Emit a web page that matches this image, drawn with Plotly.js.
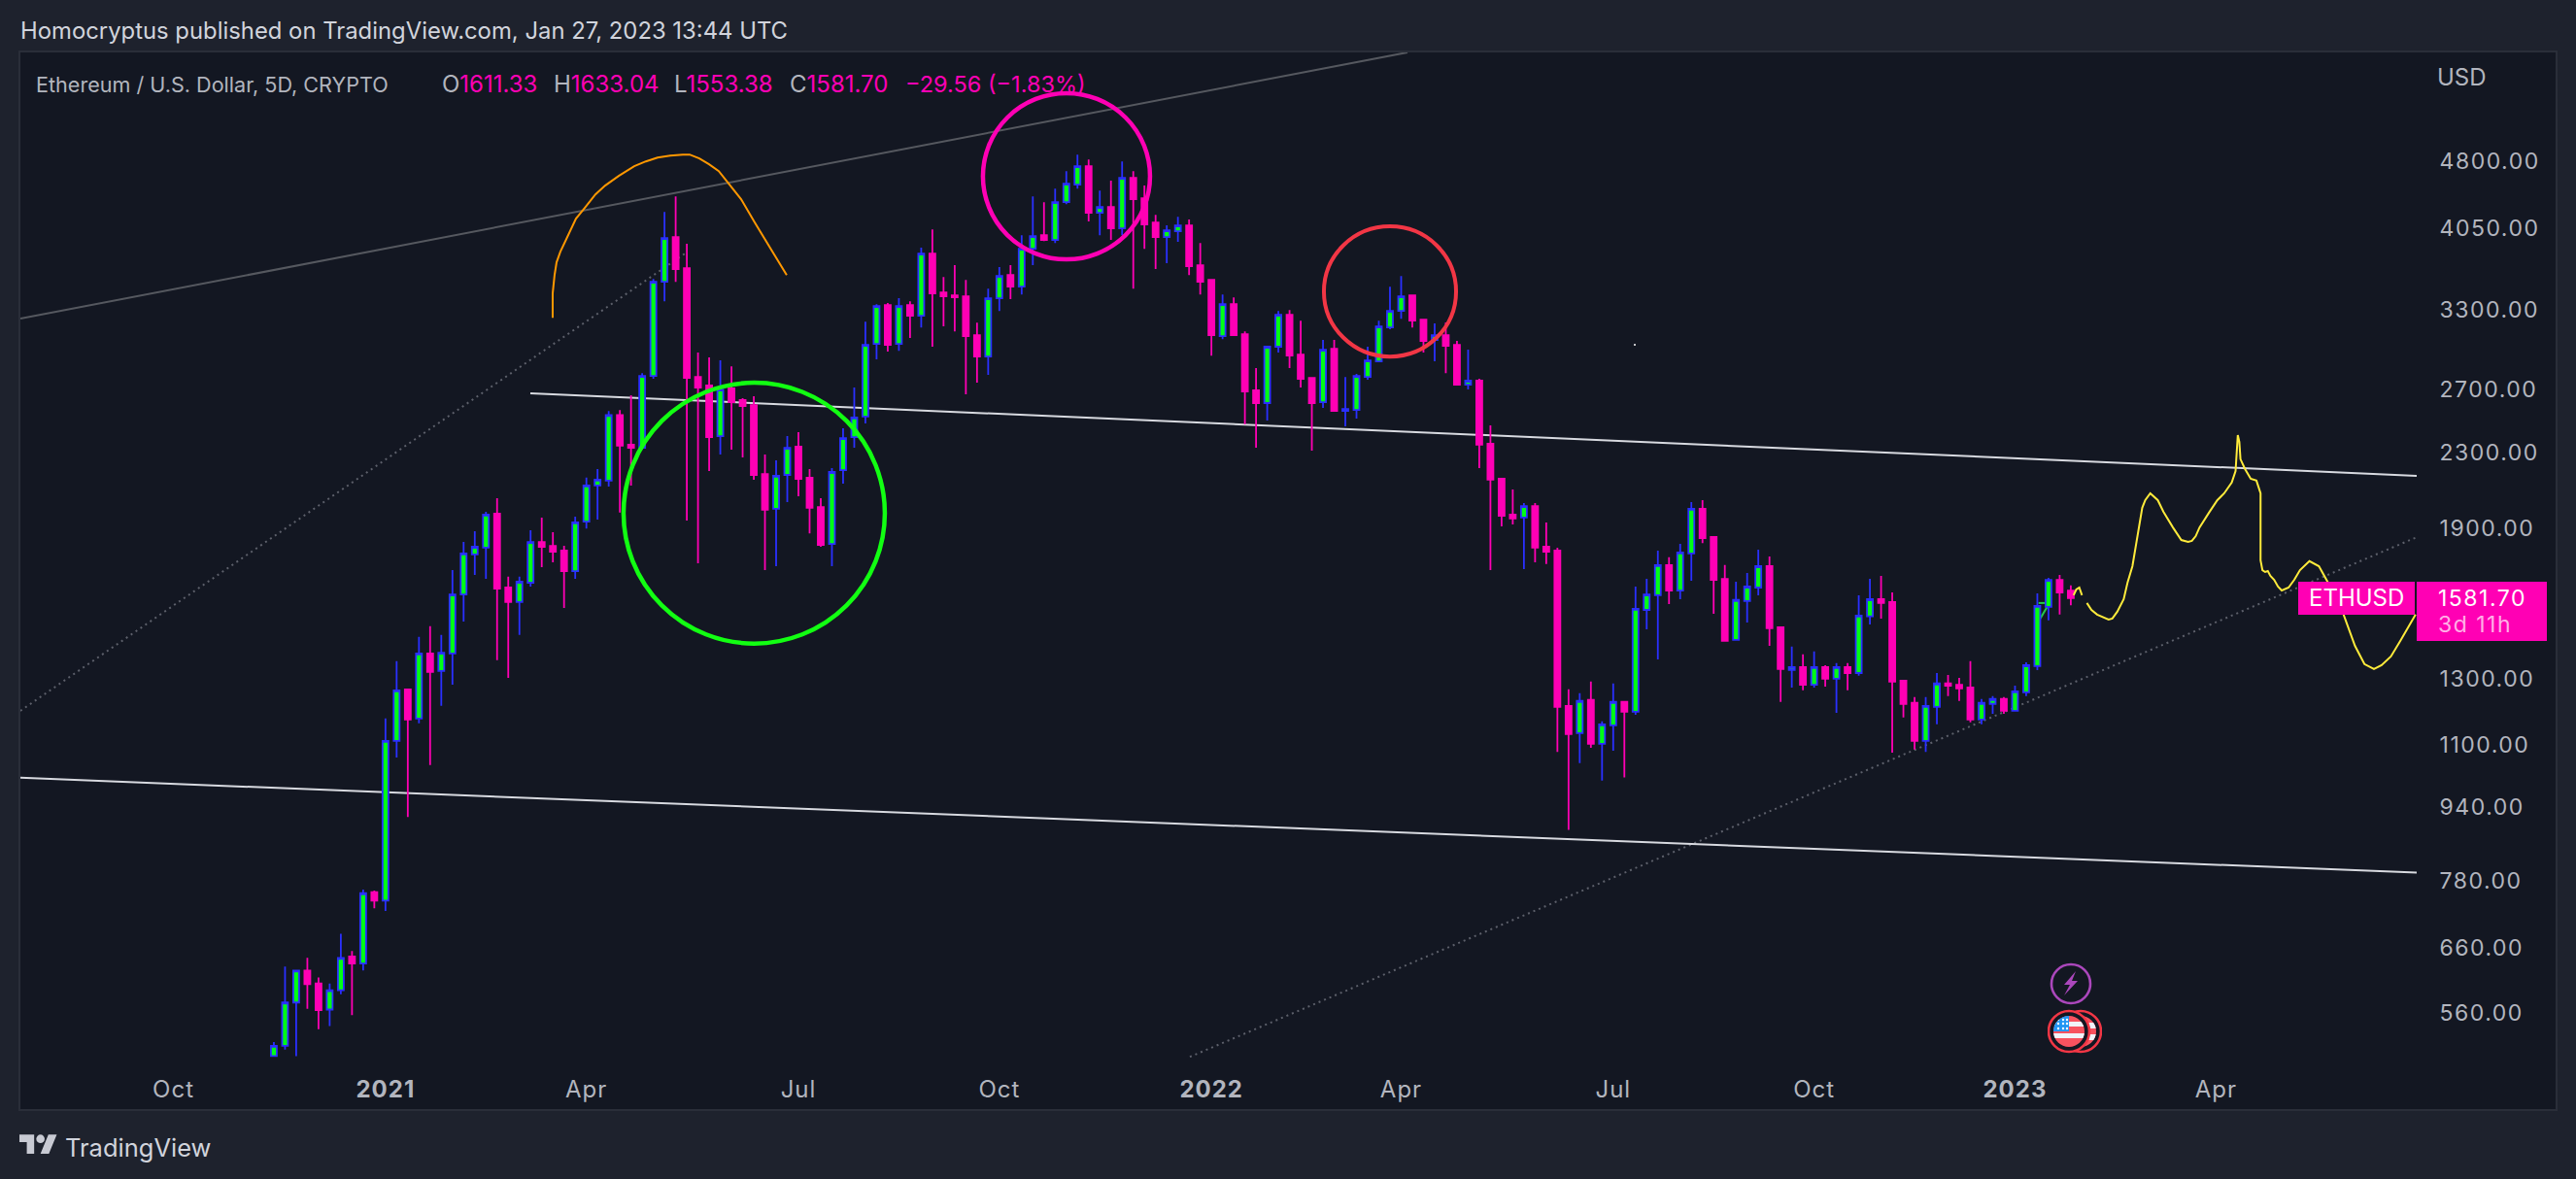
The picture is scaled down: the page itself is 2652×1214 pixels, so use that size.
<!DOCTYPE html>
<html>
<head>
<meta charset="utf-8">
<script src="https://cdn.plot.ly/plotly-3.0.1.min.js"></script>
<style>
  html, body { margin: 0; padding: 0; background: #1e222d; }
  #chart { width: 2652px; height: 1214px; }
  #chart .ytick text { letter-spacing: 1.5px; }
  #chart .xtick text { letter-spacing: 1px; }
</style>
</head>
<body>
<div id="chart"></div>
<script>
const FONT_FAMILY = "Inter, 'Noto Sans', sans-serif";
const COLORS = {
  outer: "#1e222d",
  pane: "#131722",
  frame: "#2a2e39",
  text: "#d1d4dc",
  muted: "#b2b5be",
  up: "#2a30ff",
  upFill: "#00ff15",
  down: "#ff00b4",
  white: "#d8dae0",
  gray: "#55585f",
  dots: "#5d606b",
  orange: "#ff9800",
  yellow: "#ffeb3b",
  green: "#12ff12",
  red: "#f23645",
  purple: "#ab47bc",
};

// plot area in page pixels
const PLOT = { left: 21, right: 2488, top: 54, bottom: 1089 };
const WIDTH = 2652;
const HEIGHT = 1214;

// x axis is the bar number, the way the source chart spaces its 5D bars
const barIndex = [
  1,2,3,4,5,6,7,8,9,10,11,12,13,14,15,16,17,18,19,20,
  21,22,23,24,25,26,27,28,29,30,31,32,33,34,35,36,37,38,39,40,
  41,42,43,44,45,46,47,48,49,50,51,52,53,54,55,56,57,58,59,60,
  61,62,63,64,65,66,67,68,69,70,71,72,73,74,75,76,77,78,79,80,
  81,82,83,84,85,86,87,88,89,90,91,92,93,94,95,96,97,98,99,100,
  101,102,103,104,105,106,107,108,109,110,111,112,113,114,115,116,117,118,119,120,
  121,122,123,124,125,126,127,128,129,130,131,132,133,134,135,136,137,138,139,140,
  141,142,143,144,145,146,147,148,149,150,151,152,153,154,155,156,157,158,159,160,
  161,162,
];
const opens = [
  498,511,570,618,598,560,588,640,629,753,
  737,1103,1256,1167,1375,1316,1375,1596,1766,1796,
  1957,1624,1566,1644,1822,1804,1783,1693,1918,2101,
  2127,2510,2329,2311,2770,3513,3932,3636,2763,2704,
  2380,2684,2606,2574,2163,1981,2158,2317,2143,1990,
  1813,2184,2374,2500,3003,3312,3003,3312,3224,3772,
  3420,3394,3386,3070,2909,3370,3573,3470,3818,3951,
  3904,4295,4489,4702,4180,4243,4020,4566,4337,4080,
  3932,3990,4050,3663,3530,3063,3320,3078,2671,2587,
  2982,3232,2923,2757,2593,2967,2536,2542,2763,2874,
  3131,3264,3394,3193,3033,3070,2996,2710,2737,2334,
  2137,1952,1938,1995,1800,1783,1205,1125,1223,1095,
  1147,1217,1187,1535,1593,1719,1612,1770,1981,1845,
  1660,1423,1570,1624,1714,1469,1319,1329,1271,1329,
  1290,1329,1309,1510,1577,1566,1284,1214,1103,1202,
  1275,1271,1262,1164,1211,1226,1190,1247,1332,1547,
  1656,1611.33,
];
const highs = [
  516,624,618,638,607,598,678,649,758,756,
  1167,1349,1259,1434,1473,1441,1697,1822,1872,1966,
  2035,1669,1669,1877,1938,1867,1804,1942,2143,2190,
  2536,2542,2638,2790,3539,4190,4358,3866,2938,2902,
  2881,2838,2619,2632,2272,2239,2380,2403,2190,2035,
  2195,2427,2690,3177,3320,3329,3370,3345,3828,4010,
  3556,3663,3530,3169,3453,3645,3663,3951,4358,4295,
  4445,4645,4843,4784,4423,4534,4760,4645,4478,4160,
  4050,4140,4110,3875,3539,3403,3378,3100,2825,2989,
  3264,3272,3185,2757,3033,3033,2763,2784,2982,3185,
  3470,3565,3394,3200,3162,3170,3026,2960,2750,2445,
  2137,2080,2010,2010,1914,1796,1256,1244,1281,1159,
  1275,1217,1628,1660,1783,1753,1813,2015,2025,1845,
  1719,1648,1685,1787,1757,1469,1399,1372,1382,1335,
  1342,1342,1593,1660,1673,1604,1287,1232,1232,1309,
  1303,1293,1349,1226,1235,1232,1268,1345,1600,1664,
  1677,1633.04,
];
const lows = [
  498,506,498,561,533,537,582,552,618,723,
  718,1058,910,1153,1038,1205,1271,1491,1677,1660,
  1352,1293,1441,1628,1710,1731,1543,1660,1885,1928,
  2096,1962,2101,2300,2750,3345,3513,1923,1727,2179,
  2272,2300,2255,2132,1697,1714,2015,2045,1862,1800,
  1714,2111,2311,2457,2888,2945,2952,3048,3131,2982,
  3139,3100,2645,2723,2777,3264,3362,3403,3663,3894,
  3875,4274,4445,4090,3951,3904,3951,3453,3818,3627,
  3681,3885,3573,3403,2916,3040,3063,2451,2311,2476,
  2938,2825,2690,2294,2555,2530,2439,2488,2743,2874,
  3116,3200,3131,2938,2874,2790,2710,2677,2195,1697,
  1895,1904,1701,1731,1723,1073,881,1043,1084,998,
  1076,1006,1178,1462,1355,1558,1577,1652,1817,1520,
  1420,1420,1487,1593,1402,1217,1262,1253,1262,1265,
  1184,1253,1300,1480,1502,1071,1170,1079,1073,1150,
  1235,1220,1156,1150,1181,1181,1190,1235,1319,1495,
  1517,1553.38,
];
const closes = [
  511,570,618,597,559,588,638,629,751,737,
  1103,1253,1164,1375,1313,1378,1596,1770,1800,1952,
  1620,1566,1648,1822,1800,1778,1693,1914,2101,2132,
  2510,2323,2311,2770,3513,3923,3627,2757,2690,2374,
  2677,2593,2568,2158,1976,2153,2311,2137,1986,1809,
  2174,2368,2494,2996,3304,2996,3304,3224,3772,3411,
  3386,3378,3063,2909,3370,3565,3470,3818,3942,3904,
  4295,4500,4702,4180,4243,4020,4566,4327,4060,3932,
  4000,4050,3654,3513,3070,3320,3070,2664,2587,2982,
  3232,2916,2750,2587,2960,2536,2548,2770,2881,3139,
  3264,3386,3185,3026,3070,2989,2710,2737,2329,2132,
  1947,1933,1995,1796,1778,1202,1122,1220,1095,1150,
  1217,1187,1539,1596,1719,1612,1774,1981,1840,1656,
  1420,1574,1628,1714,1466,1322,1329,1271,1329,1290,
  1329,1309,1513,1577,1562,1281,1211,1103,1205,1275,
  1268,1259,1164,1214,1226,1190,1250,1335,1551,1656,
  1604,1581.70,
];

const timeTickVals = [-8, 11, 29, 48, 66, 85, 102, 121, 139, 157, 175];
const timeTickText = ["Oct", "<b>2021</b>", "Apr", "Jul", "Oct", "<b>2022</b>", "Apr", "Jul", "Oct", "<b>2023</b>", "Apr"];
const priceTicks = [4800, 4050, 3300, 2700, 2300, 1900, 1300, 1100, 940, 780, 660, 560];

// trend lines as [bar, price, bar, price]
const upperChannel = [-21.71, 3201, 102.57, 6267];
const wedgeDotted = [-21.71, 1190, 37.81, 3771];
const supportDotted = [83.07, 497, 192.99, 1844];
const neckline = [23.98, 2651, 192.99, 2153];
const lowerLine = [-21.71, 1005, 192.99, 791];
const greenTickA = [159.1, 1562, 159.94, 1562];
const greenTickB = [159.26, 1502, 159.94, 1551];

// circles as [bar0, price0, bar1, price1]
const greenCircle = [32.33, 1410, 55.74, 2723];
const pinkCircle = [64.53, 3717, 79.5, 5654];
const redCircle = [95.08, 2909, 106.92, 4040];

const orangeBars = [25.98,25.98,26.15,26.33,26.67,27.37,28.07,28.85,29.81,30.68,31.9,33.29,34.33,35.38,36.51,37.64,38.25,39.12,39.99,40.86,41.73,42.86,44.08,45.21,46.34,46.95];
const orangePrices = [3208,3411,3573,3690,3790,3951,4120,4232,4380,4478,4589,4702,4760,4807,4831,4843,4843,4796,4725,4645,4500,4327,4080,3875,3672,3573];

const yellowBars = [
  162.25,162.49,162.76,163,null,
  163.44,163.85,164.36,164.87,165.38,165.72,166.16,166.74,167.08,167.52,167.76,168.1,168.4,168.67,169.12,
  169.79,170.3,171.15,171.9,172.51,172.85,173.19,173.53,174.38,175.13,175.74,176.42,176.76,176.96,177.1,
  177.2,177.61,178.12,178.63,178.9,179,179,179.17,179.41,179.65,179.88,180.22,180.56,180.9,181.51,182.02,
  182.53,183.38,184.23,184.74,185.05,186.44,186.95,187.46,188.31,189.16,189.84,190.68,191.53,192.89,
];
const yellowPrices = [
  1593,1616,1624,1593,null,
  1562,1535,1517,1506,1498,1502,1528,1577,1644,1714,1783,1890,1986,2025,2060,
  2025,1966,1890,1831,1822,1827,1849,1890,1962,2025,2060,2117,2179,2386,2345,
  2245,2190,2137,2127,2085,2060,1740,1697,1689,1693,1673,1656,1628,1612,1624,1656,
  1697,1736,1714,1673,1644,1517,1455,1402,1339,1322,1335,1365,1420,1517,
];
const strayDot = [122.93, 2996];

const pxX = (x) => (x - PLOT.left) / (PLOT.right - PLOT.left);
const pxY = (y) => (PLOT.bottom - y) / (PLOT.bottom - PLOT.top);

function trendLine(points, color, width, dash) {
  return {
    type: "line",
    layer: "below",
    xref: "x",
    yref: "y",
    x0: points[0],
    y0: points[1],
    x1: points[2],
    y1: points[3],
    line: { color, width, dash: dash || "solid" },
  };
}

function circleShape(box, color, width) {
  return {
    type: "circle",
    layer: "above",
    xref: "x",
    yref: "y",
    x0: box[0],
    y0: box[1],
    x1: box[2],
    y1: box[3],
    line: { color, width },
  };
}

function paperRect(x0, y0, x1, y1, fill, line, layer) {
  return {
    type: "rect",
    layer: layer || "above",
    xref: "paper",
    yref: "paper",
    x0: pxX(x0),
    x1: pxX(x1),
    y0: pxY(y0),
    y1: pxY(y1),
    fillcolor: fill,
    line: line || { width: 0 },
  };
}

function label(text, x, y, size, color, anchor) {
  return {
    text,
    x: pxX(x),
    y: pxY(y),
    xref: "paper",
    yref: "paper",
    xanchor: anchor || "left",
    yanchor: "middle",
    showarrow: false,
    align: "left",
    borderpad: 0,
    borderwidth: 0,
    font: { family: FONT_FAMILY, size, color },
  };
}

function ohlcLabel(name, value, x) {
  return label(`${name}<span style="color:${COLORS.down}">${value}</span>`, x, 87, 24, COLORS.muted);
}

function spaced(text) {
  return `<span style="letter-spacing:1.5px">${text}</span>`;
}

function svgImage(svg, x, y, w, h) {
  return {
    source: "data:image/svg+xml;utf8," + encodeURIComponent(svg),
    xref: "paper",
    yref: "paper",
    x: pxX(x),
    y: pxY(y),
    sizex: w / (PLOT.right - PLOT.left),
    sizey: h / (PLOT.bottom - PLOT.top),
    xanchor: "left",
    yanchor: "top",
    sizing: "stretch",
    layer: "above",
  };
}

const logoSvg = `<svg xmlns="http://www.w3.org/2000/svg" viewBox="0 0 36 28"><path fill="#c8cad3" d="M14 22H7V11H0V4h14v18zM28 22h-8l7.5-18h8L28 22z"/><circle fill="#c8cad3" cx="20" cy="8" r="4"/></svg>`;
const boltSvg = `<svg xmlns="http://www.w3.org/2000/svg" viewBox="0 0 44 44"><circle cx="22" cy="22" r="20" fill="#131722" stroke="${COLORS.purple}" stroke-width="2.6"/><path fill="${COLORS.purple}" d="M27 9 L15 23 H21 L15 34 L29 19 H23 Z"/></svg>`;
const flagSvg = `<svg xmlns="http://www.w3.org/2000/svg" viewBox="0 0 56 46"><defs><clipPath id="a"><circle cx="22" cy="23" r="16"/></clipPath><clipPath id="b"><circle cx="34" cy="23" r="16"/></clipPath></defs>
<circle cx="34" cy="23" r="21" fill="#131722" stroke="${COLORS.red}" stroke-width="2.6"/>
<g clip-path="url(#b)"><rect x="18" y="7" width="32" height="32" fill="#f7525f"/><rect x="18" y="14" width="32" height="6" fill="#f0f3fa"/><rect x="18" y="26" width="32" height="6" fill="#f0f3fa"/></g>
<circle cx="22" cy="23" r="21" fill="#131722" stroke="${COLORS.red}" stroke-width="2.6"/>
<g clip-path="url(#a)"><rect x="6" y="7" width="32" height="32" fill="#f7525f"/><rect x="6" y="13" width="32" height="5" fill="#f0f3fa"/><rect x="6" y="25" width="32" height="5" fill="#f0f3fa"/><rect x="6" y="7" width="16" height="16" fill="#2196f3"/>
<g fill="#fff"><circle cx="11" cy="11" r="1.2"/><circle cx="16" cy="11" r="1.2"/><circle cx="20" cy="11" r="1.2"/><circle cx="11" cy="15" r="1.2"/><circle cx="16" cy="15" r="1.2"/><circle cx="20" cy="15" r="1.2"/><circle cx="11" cy="20" r="1.2"/><circle cx="16" cy="20" r="1.2"/><circle cx="20" cy="20" r="1.2"/></g></g></svg>`;

const traces = [
  {
    type: "candlestick",
    x: barIndex,
    open: opens,
    high: highs,
    low: lows,
    close: closes,
    increasing: { line: { color: COLORS.up, width: 1.8 }, fillcolor: COLORS.upFill },
    decreasing: { line: { color: COLORS.down, width: 1.8 }, fillcolor: COLORS.down },
    hoverinfo: "skip",
    showlegend: false,
  },
  {
    type: "scatter",
    mode: "lines",
    x: orangeBars,
    y: orangePrices,
    line: { color: COLORS.orange, width: 2 },
    hoverinfo: "skip",
    showlegend: false,
  },
  {
    type: "scatter",
    mode: "lines",
    x: yellowBars,
    y: yellowPrices,
    connectgaps: false,
    line: { color: COLORS.yellow, width: 2 },
    hoverinfo: "skip",
    showlegend: false,
  },
  {
    type: "scatter",
    mode: "markers",
    x: [strayDot[0]],
    y: [strayDot[1]],
    marker: { color: "#ffffff", size: 2 },
    hoverinfo: "skip",
    showlegend: false,
  },
];

const layout = {
  width: WIDTH,
  height: HEIGHT,
  margin: { l: PLOT.left, r: WIDTH - PLOT.right, t: PLOT.top, b: HEIGHT - PLOT.bottom, pad: 0, autoexpand: false },
  paper_bgcolor: COLORS.outer,
  plot_bgcolor: "rgba(0,0,0,0)",
  font: { family: FONT_FAMILY, color: COLORS.muted, size: 24 },
  showlegend: false,
  hovermode: false,
  boxgap: 0.25,
  xaxis: {
    type: "linear",
    range: [-21.71, 192.99],
    rangeslider: { visible: false },
    tickmode: "array",
    tickvals: timeTickVals,
    ticktext: timeTickText,
    tickfont: { family: FONT_FAMILY, size: 24, color: COLORS.muted },
    ticks: "outside",
    ticklen: 11,
    tickcolor: "rgba(0,0,0,0)",
    showgrid: false,
    zeroline: false,
    showline: false,
  },
  yaxis: {
    type: "log",
    range: [2.6955, 3.797],
    side: "right",
    tickmode: "array",
    tickvals: priceTicks,
    ticktext: priceTicks.map((value) => value.toFixed(2)),
    tickfont: { family: FONT_FAMILY, size: 23, color: COLORS.muted },
    ticklabelshift: 3,
    ticks: "outside",
    ticklen: 18,
    tickcolor: "rgba(0,0,0,0)",
    showgrid: false,
    zeroline: false,
    showline: false,
  },
  shapes: [
    paperRect(20, 53, 2632, 1143, COLORS.pane, { color: COLORS.frame, width: 2 }, "below"),
    trendLine(upperChannel, COLORS.gray, 2),
    trendLine(wedgeDotted, COLORS.dots, 2, "2px,4px"),
    trendLine(supportDotted, COLORS.dots, 2, "2px,4px"),
    trendLine(neckline, COLORS.white, 2),
    trendLine(lowerLine, COLORS.white, 2),
    trendLine(greenTickA, "#22c94a", 2),
    trendLine(greenTickB, "#22c94a", 2),
    circleShape(greenCircle, COLORS.green, 4.5),
    circleShape(pinkCircle, COLORS.down, 4.5),
    circleShape(redCircle, COLORS.red, 4),
    paperRect(2366, 599, 2486, 633, COLORS.down),
    paperRect(2488, 599, 2622, 660, COLORS.down),
  ],
  images: [
    svgImage(logoSvg, 20, 1164, 39, 30.5),
    svgImage(boltSvg, 2110, 991, 44, 44),
    svgImage(flagSvg, 2108, 1039, 56, 46),
  ],
  annotations: [
    label("Homocryptus published on TradingView.com, Jan 27, 2023 13:44 UTC", 21, 32, 23.85, COLORS.text),
    label("Ethereum / U.S. Dollar, 5D, CRYPTO", 37, 87, 21.6, COLORS.muted),
    ohlcLabel("O", "1611.33", 455),
    ohlcLabel("H", "1633.04", 570),
    ohlcLabel("L", "1553.38", 694),
    ohlcLabel("C", "1581.70", 813),
    label("−29.56 (−1.83%)", 932, 87, 23.5, COLORS.down),
    label("USD", 2509, 80, 24, COLORS.muted),
    label("ETHUSD", 2426, 616, 24, "#ffffff", "center"),
    label(spaced("1581.70"), 2510, 616, 23, "#ffffff"),
    label(spaced("3d 11h"), 2510, 643, 23, "rgba(255,255,255,0.7)"),
    label("TradingView", 67, 1181, 25.5, COLORS.text),
  ],
};

Plotly.newPlot("chart", traces, layout, { displayModeBar: false, staticPlot: true });
</script>
</body>
</html>
